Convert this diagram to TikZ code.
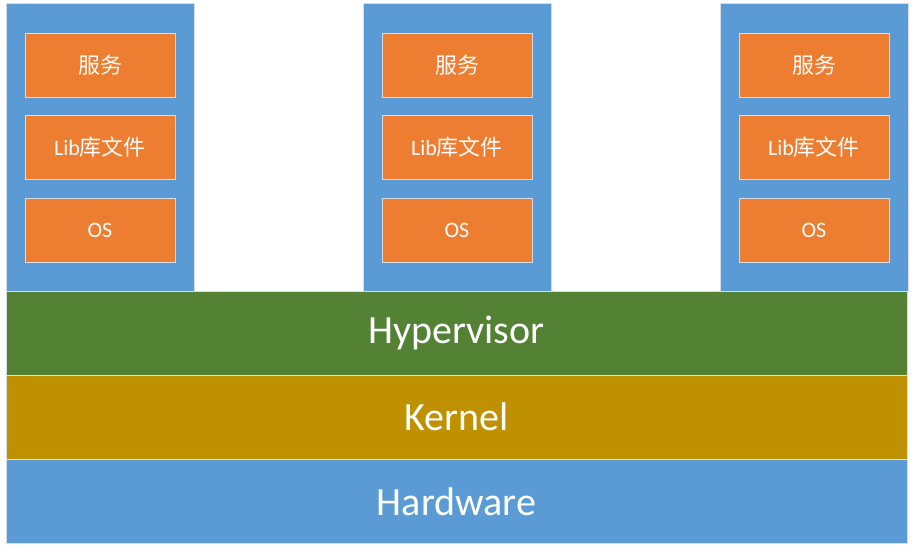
\documentclass[tikz,border=0pt]{standalone}
\usepackage{fontspec}
\setmainfont{Carlito}
\newfontfamily\cjk{Noto Sans CJK SC}
\definecolor{vmblue}{HTML}{5B9BD5}
\definecolor{svcorange}{HTML}{ED7D31}
\definecolor{hypgreen}{HTML}{548235}
\definecolor{kerngold}{HTML}{BF9000}
\definecolor{edgegray}{HTML}{D9DEE6}
\begin{document}
\begin{tikzpicture}[x=1pt,y=-1pt,
  vmcol/.style={fill=vmblue,draw=edgegray,line width=0.8pt},
  svcbox/.style={fill=svcorange,draw=edgegray,line width=0.8pt,text=white,font=\fontsize{22}{26}\selectfont},
  layerbox/.style={draw=edgegray,line width=0.8pt,text=white,font=\fontsize{40}{46}\selectfont}]
\useasboundingbox (0,0) rectangle (915,554);
% VM columns
\foreach \n/\x in {a/6,b/363,c/720}{
  \path[vmcol] (\x,3) rectangle (\x+188,291);
  \node[svcbox,minimum width=150pt,minimum height=64pt,inner sep=0pt] (svc\n) at (\x+94,65) {\cjk 服务};
  \node[svcbox,minimum width=150pt,minimum height=64pt,inner sep=0pt] (lib\n) at (\x+94,147) {Lib{\cjk 库文件}};
  \node[svcbox,minimum width=150pt,minimum height=64pt,inner sep=0pt] (os\n) at (\x+94,230) {OS};
}
% Layers
\node[layerbox,fill=hypgreen,minimum width=901pt,minimum height=84pt,inner sep=0pt] (hyp) at (456.5,333) {Hypervisor};
\node[layerbox,fill=kerngold,minimum width=901pt,minimum height=84pt,inner sep=0pt] (kern) at (456.5,417) {Kernel};
\node[layerbox,fill=vmblue,minimum width=901pt,minimum height=84pt,inner sep=0pt] (hw) at (456.5,501.5) {Hardware};
\end{tikzpicture}
\end{document}
